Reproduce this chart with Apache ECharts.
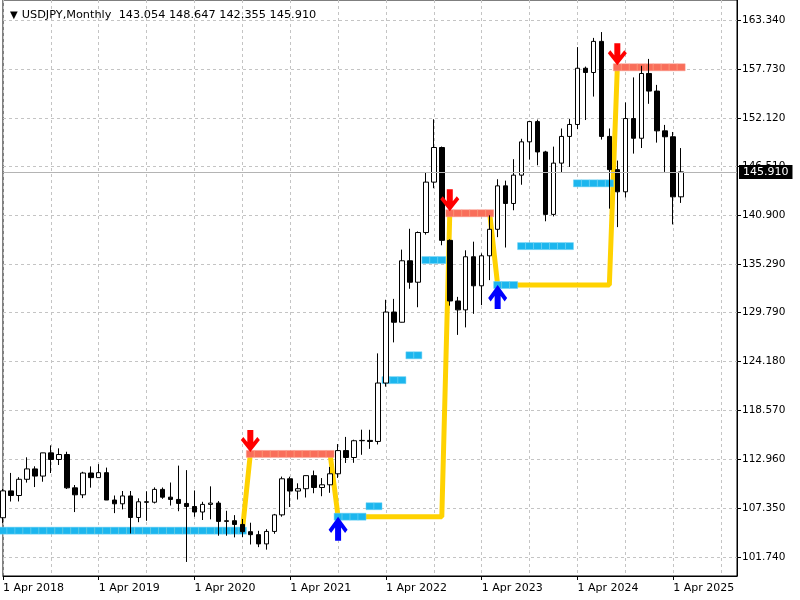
<!DOCTYPE html>
<html>
<head>
<meta charset="utf-8">
<script src="https://cdn.jsdelivr.net/npm/echarts@6/dist/echarts.min.js"></script>
<style>
html,body{margin:0;padding:0;background:#fff;}
#chart{width:800px;height:600px;}
</style>
</head>
<body>
<div id="chart"></div>
<script>
// ---------- DATA ----------
const symbolName = 'USDJPY';
const timeframe = 'Monthly';
const startYear = 2018;
const startMonth = 3;        // April (0-based)
const emptyMonthsAfter = 7;  // empty slots on the right of the last bar

// monthly bars Apr 2018 .. May 2025
const opens = [
  106.25,109.33,108.80,110.66,111.85,111.03,113.69,112.93,113.50,109.68,
  108.88,111.38,110.85,111.42,108.28,107.85,108.75,106.28,108.08,108.03,
  109.50,108.61,108.35,107.89,107.54,106.91,107.78,107.93,105.83,105.91,
  105.48,104.65,104.31,103.25,104.68,106.58,110.72,109.31,109.58,111.08,
  109.72,110.03,111.29,113.95,113.16,115.08,115.12,115.00,121.70,129.84,
  128.67,135.72,133.26,138.96,144.74,148.71,138.06,131.11,130.09,136.18,
  132.85,136.29,139.33,144.31,142.29,145.54,149.36,151.68,148.20,141.04,
  146.92,149.98,151.35,157.80,157.31,160.88,149.98,146.17,143.63,152.03,
  149.77,157.20,155.18,150.62,149.94,143.054
];
const highs = [
  109.55,111.39,110.90,113.18,112.15,113.70,114.55,114.21,113.82,110.00,
  111.52,112.14,112.40,112.00,108.80,109.32,109.32,108.48,109.29,109.73,
  109.72,110.29,112.23,111.71,109.38,108.08,109.85,108.16,107.05,106.55,
  106.11,105.68,104.75,104.94,106.69,110.97,110.96,110.20,111.11,111.66,
  110.80,112.08,114.70,115.52,115.20,116.35,116.34,125.10,131.25,131.35,
  137.00,139.39,139.08,145.90,151.95,148.82,138.18,131.58,136.92,137.91,
  136.56,140.93,145.07,144.91,147.37,149.71,151.72,151.91,148.33,148.81,
  150.89,151.97,160.22,157.99,161.28,161.95,150.89,147.21,153.88,156.75,
  158.08,158.87,155.89,151.30,150.49,148.647
];
const lows = [
  105.65,108.11,108.12,110.28,109.77,110.38,111.38,112.30,109.55,106.90,
  108.50,109.70,110.84,108.28,106.78,107.21,104.45,105.74,105.90,107.89,
  108.42,107.65,107.00,101.18,106.36,105.99,106.07,104.19,104.19,104.00,
  104.02,103.18,102.88,102.59,104.41,106.37,107.48,108.34,108.57,109.06,
  108.72,109.11,110.82,112.53,112.55,113.47,114.15,114.65,121.28,126.36,
  128.65,132.51,130.39,138.72,144.04,137.50,130.57,127.22,128.08,129.64,
  130.63,133.50,138.43,137.24,141.51,144.44,147.32,146.67,140.25,140.81,
  145.90,146.48,150.81,151.86,154.55,149.62,141.70,139.58,142.97,148.01,
  148.65,153.72,149.27,145.91,139.89,142.355
];
const closes = [
  109.33,108.80,110.66,111.85,111.03,113.69,112.93,113.50,109.68,108.88,
  111.38,110.85,111.42,108.28,107.85,108.75,106.28,108.08,108.03,109.50,
  108.61,108.35,107.89,107.54,106.91,107.78,107.93,105.83,105.91,105.48,
  104.65,104.31,103.25,104.68,106.58,110.72,109.31,109.58,111.08,109.72,
  110.03,111.29,113.95,113.16,115.08,115.12,115.00,121.70,129.84,128.67,
  135.72,133.26,138.96,144.74,148.71,138.06,131.11,130.09,136.18,132.85,
  136.29,139.33,144.31,142.29,145.54,149.36,151.68,148.20,141.04,146.92,
  149.98,151.35,157.80,157.31,160.88,149.98,146.17,143.63,152.03,149.77,
  157.20,155.18,150.62,149.94,143.05,145.910
];

// price-axis tick labels
const yTickLabels = ['101.740','107.350','112.960','118.570','124.180','129.790',
                     '135.290','140.900','146.510','152.120','157.730','163.340'];

// indicator: [firstBar, lastBar, price]
const supportSegments = [
  [0, 30, 104.77], [42, 45, 106.37], [46, 47, 107.57], [48, 50, 122.03],
  [51, 52, 124.88], [53, 55, 135.80], [62, 64, 132.94], [65, 71, 137.40],
  [72, 76, 144.60]
];
const resistanceSegments = [
  [31, 41, 113.57], [56, 61, 141.17], [77, 85, 157.91]
];
const trendSegments = [
  [0, 30, 104.77], [31, 41, 113.57], [42, 55, 106.37],
  [56, 61, 141.17], [62, 76, 132.94], [77, 85, 157.91]
];
// arrows: [bar, price]
const sellArrows = [[31, 113.57], [56, 141.17], [77, 157.91]];
const buyArrows = [[42, 106.37], [62, 132.94]];

// ---------- BUILD ----------
const FONT = 'DejaVu Sans';
const monthNames = ['Jan','Feb','Mar','Apr','May','Jun','Jul','Aug','Sep','Oct','Nov','Dec'];
const nBars = opens.length + emptyMonthsAfter;
const categories = [];
for (let i = 0; i < nBars; i++) {
  const m = startMonth + i;
  categories.push('1 ' + monthNames[m % 12] + ' ' + (startYear + Math.floor(m / 12)));
}
const candleData = opens.map((o, i) => [o, closes[i], lows[i], highs[i]]);
const last = opens.length - 1;
const currentPrice = closes[last];
const header = [opens[last], highs[last], lows[last], closes[last]].map(v => v.toFixed(3)).join(' ');

function segPoints(segs) {
  const pts = [];
  segs.forEach(([a, b, v]) => { for (let i = a; i <= b; i++) pts.push([i, v]); });
  return pts;
}
function segLine(segs) {
  const arr = new Array(nBars).fill(null);
  segs.forEach(([a, b, v]) => { for (let i = a; i <= b; i++) arr[i] = v; });
  return arr;
}
const yTickValues = yTickLabels.map(Number);

const downArrow = 'path://M6.5,0L12.5,0L12.5,12L16.5,7L19,10L9.5,22L0,10L2.5,7L6.5,12Z';
const upArrow = 'path://M6.5,22L12.5,22L12.5,10L16.5,15L19,12L9.5,0L0,12L2.5,15L6.5,10Z';

const chart = echarts.init(document.getElementById('chart'));
chart.setOption({
  animation: false,
  backgroundColor: '#fff',
  title: {
    left: 4, top: 5,
    text: '{a|▼}' + symbolName + ',' + timeframe + '  ' + header,
    textStyle: {
      fontFamily: FONT, fontSize: 11.3, fontWeight: 'normal', color: '#000',
      rich: { a: { fontFamily: FONT, fontSize: 10, color: '#000', padding: [0, 4, 0, 1] } }
    }
  },
  grid: { left: 3, right: 63, top: -2, bottom: 24, show: true, borderColor: '#000', borderWidth: 1 },
  xAxis: {
    type: 'category', data: categories, boundaryGap: false,
    axisLine: { show: true, lineStyle: { color: '#000' } },
    axisTick: { show: true, length: 4, interval: (i) => i % 12 === 0, lineStyle: { color: '#000' } },
    axisLabel: {
      interval: (i) => i % 12 === 0, align: 'left', color: '#000',
      fontFamily: FONT, fontSize: 11, margin: 7
    },
    splitLine: { show: true, interval: (i) => i % 6 === 0, lineStyle: { color: '#c4c4c4', type: [3, 3] } }
  },
  yAxis: {
    type: 'value', position: 'right', min: 99.569, max: 165.626,
    axisLine: { show: true, lineStyle: { color: '#000' } },
    axisTick: { show: true, length: 4, customValues: yTickValues, lineStyle: { color: '#000' } },
    axisLabel: {
      customValues: yTickValues, formatter: (v) => v.toFixed(3),
      color: '#000', fontFamily: FONT, fontSize: 10.5, margin: 5
    },
    splitLine: { show: true, lineStyle: { color: '#c4c4c4', type: [3, 3] } }
  },
  series: [
    {
      type: 'line', name: 'trend', data: segLine(trendSegments), z: 1, silent: true,
      symbol: 'none', connectNulls: false,
      lineStyle: { color: '#ffd200', width: 5 },
      markLine: {
        silent: true, symbol: ['none', 'none'], animation: false,
        data: [{ yAxis: currentPrice }],
        lineStyle: { color: '#b4b4b4', type: 'solid', width: 1 },
        label: {
          show: true, position: 'end', distance: 2,
          formatter: currentPrice.toFixed(3),
          backgroundColor: '#000', color: '#fff', fontFamily: FONT, fontSize: 11,
          padding: [2, 4, 1, 4]
        }
      }
    },
    {
      type: 'scatter', name: 'support', data: segPoints(supportSegments), z: 2, silent: true,
      symbol: 'rect', symbolSize: [8, 7],
      itemStyle: { color: '#1cb6ee', opacity: 1, borderColor: '#6fd2f5', borderWidth: 0.5 }
    },
    {
      type: 'scatter', name: 'resistance', data: segPoints(resistanceSegments), z: 2, silent: true,
      symbol: 'rect', symbolSize: [8, 7],
      itemStyle: { color: '#f96e5a', opacity: 1, borderColor: '#fb9a8c', borderWidth: 0.5 }
    },
    {
      type: 'candlestick', name: symbolName, data: candleData, z: 3, silent: true,
      barWidth: 5, clip: false,
      itemStyle: { color: '#fff', color0: '#000', borderColor: '#000', borderColor0: '#000', borderColorDoji: '#000', borderWidth: 1 }
    },
    {
      type: 'scatter', name: 'sell', data: sellArrows, z: 4, silent: true,
      symbol: downArrow, symbolSize: [19, 22], symbolOffset: [0, -13],
      itemStyle: { color: '#ff0000', opacity: 1 }
    },
    {
      type: 'scatter', name: 'buy', data: buyArrows, z: 4, silent: true,
      symbol: upArrow, symbolSize: [19, 24], symbolOffset: [0, 12],
      itemStyle: { color: '#0000ff', opacity: 1 }
    }
  ]
});
</script>
</body>
</html>
